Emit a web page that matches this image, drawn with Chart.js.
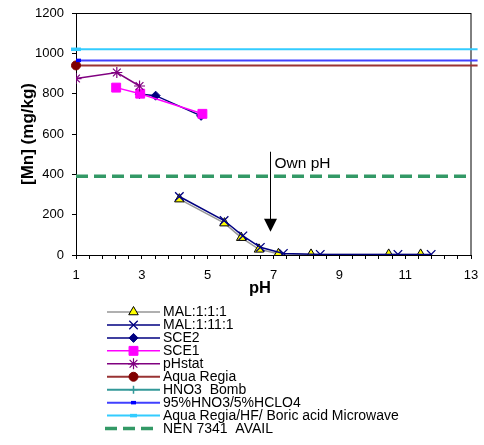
<!DOCTYPE html>
<html lang="en">
<head>
  <meta charset="UTF-8" />
  <title>[Mn] vs pH</title>
  <style>
    html, body { margin: 0; padding: 0; background: #fff; }
    #grafico { display: block; }
  </style>
</head>
<body>
  <canvas id="grafico" width="484" height="445"></canvas>

  <script src="https://cdn.jsdelivr.net/npm/chart.js"></script>
  <script>
    // --- dados ---
    const malA_ph  = [4.14, 5.51, 6.02, 6.56, 7.15, 8.14, 10.5, 11.47];
    const malA_mn  = [277, 158, 86, 28, 6, 3, 3, 3];

    const malB_ph  = [4.14, 5.5, 6.07, 6.6, 7.3, 8.42, 10.78, 11.79];
    const malB_mn  = [290, 171, 95, 38, 8, 3, 3, 3];

    const sce2_ph  = [2.93, 3.42, 4.8];
    const sce2_mn  = [798, 790, 690];

    const sce1_ph  = [2.22, 2.95, 4.84];
    const sce1_mn  = [830, 800, 700];

    const phstat_ph = [1, 2.24, 2.93];
    const phstat_mn = [875, 905, 838];

    // linhas de referência (valor total, desenhado de pH 1 até além de 13)
    const refRange_ph   = [1, 13.2];
    const aquaRegia_mn  = 940;
    const hno3Bomb_mn   = [];      // não aparece na área do gráfico
    const hno3hclo4_mn  = 965;
    const microwave_mn  = 1020;
    const nenRange_ph   = [1, 13];
    const nenAvail_mn   = 390;

    const xTicksLabeled = [1, 3, 5, 7, 9, 11, 13];

    // anotação "Own pH"
    const ownPh = { ph: 6.9, mnTop: 512, mnTip: 115 };

    const FONTE = '"Liberation Sans", Arial, sans-serif';

    function pts(xs, ys) {
      return xs.map((x, i) => ({ x: x, y: ys[i] }));
    }
    function linhaRef(valor, faixa) {
      return faixa.map(x => ({ x: x, y: valor }));
    }

    const datasets = [
      {
        label: 'MAL:1:1:1', data: pts(malA_ph, malA_mn),
        borderColor: '#969696', borderWidth: 1.5,
        pointStyle: 'triangle', pointRadius: 5.5,
        pointBackgroundColor: '#ffff00', pointBorderColor: '#000', pointBorderWidth: 1
      },
      {
        label: 'MAL:1:11:1', data: pts(malB_ph, malB_mn),
        borderColor: '#000080', borderWidth: 1.5,
        pointStyle: 'crossRot', pointRadius: 6,
        pointBorderColor: '#000080', pointBorderWidth: 1.3
      },
      {
        label: 'SCE2', data: pts(sce2_ph, sce2_mn),
        borderColor: '#000080', borderWidth: 1.5,
        pointStyle: 'rectRot', pointRadius: 4.5,
        pointBackgroundColor: '#000080', pointBorderColor: '#000080', pointBorderWidth: 1
      },
      {
        label: 'SCE1', data: pts(sce1_ph, sce1_mn),
        borderColor: '#ff00ff', borderWidth: 1.5,
        pointStyle: 'rect', pointRadius: 6.3,
        pointBackgroundColor: '#ff00ff', pointBorderColor: '#ff00ff', pointBorderWidth: 1
      },
      {
        label: 'pHstat', data: pts(phstat_ph, phstat_mn),
        borderColor: '#800080', borderWidth: 1.5,
        pointStyle: 'star', pointRadius: 5.5,
        pointBorderColor: '#800080', pointBorderWidth: 1.2
      },
      {
        label: 'Aqua Regia', data: linhaRef(aquaRegia_mn, refRange_ph),
        borderColor: '#993333', borderWidth: 2,
        pointStyle: 'circle', pointRadius: [4.5, 0],
        pointBackgroundColor: '#800000', pointBorderColor: '#800000', pointBorderWidth: 1,
        clip: false
      },
      {
        label: 'HNO3  Bomb', data: hno3Bomb_mn,
        borderColor: '#339999', borderWidth: 2,
        pointStyle: 'cross', pointRadius: 4,
        pointBorderColor: '#339999', pointBorderWidth: 1.5,
        clip: false
      },
      {
        label: '95%HNO3/5%HCLO4', data: linhaRef(hno3hclo4_mn, refRange_ph),
        borderColor: '#4040ff', borderWidth: 2,
        pointStyle: 'dash', pointRadius: [5, 0],
        pointBorderColor: '#0000ff', pointBorderWidth: 3.5,
        clip: false
      },
      {
        label: 'Aqua Regia/HF/ Boric acid Microwave', data: linhaRef(microwave_mn, refRange_ph),
        borderColor: '#33ccff', borderWidth: 2,
        pointStyle: 'line', pointRadius: [5, 0],
        pointBorderColor: '#33ccff', pointBorderWidth: 3.5,
        clip: false
      },
      {
        label: 'NEN 7341  AVAIL', data: linhaRef(nenAvail_mn, nenRange_ph),
        borderColor: '#339966', borderWidth: 3.5, borderDash: [12, 6],
        pointRadius: 0
      }
    ];
    // como no Excel: as séries posteriores ficam por cima
    datasets.forEach((d, i) => {
      d.order = datasets.length - i;
      d.showLine = true;
      d.fill = false;
      d.tension = 0;
      d.pointHoverRadius = d.pointRadius;
    });

    const molduraPlugin = {
      id: 'moldura',
      beforeDatasetsDraw(chart) {
        const { ctx, chartArea: a } = chart;
        ctx.save();
        ctx.strokeStyle = '#000';
        ctx.lineWidth = 1;
        ctx.strokeRect(a.left + 0.5, a.top + 0.5, a.right - a.left - 0.5, a.bottom - a.top);
        ctx.restore();
      }
    };

    const anotacaoPlugin = {
      id: 'anotacao',
      afterDatasetsDraw(chart) {
        const { ctx } = chart;
        const xs = chart.scales.x, ys = chart.scales.y;
        const px = Math.round(xs.getPixelForValue(ownPh.ph)) + 0.5;
        const yTop = ys.getPixelForValue(ownPh.mnTop);
        const yTip = ys.getPixelForValue(ownPh.mnTip);
        ctx.save();
        ctx.strokeStyle = '#000';
        ctx.fillStyle = '#000';
        ctx.lineWidth = 1;
        ctx.beginPath();
        ctx.moveTo(px, yTop);
        ctx.lineTo(px, yTip - 12);
        ctx.stroke();
        ctx.beginPath();
        ctx.moveTo(px - 6.5, yTip - 13);
        ctx.lineTo(px + 6.5, yTip - 13);
        ctx.lineTo(px, yTip);
        ctx.closePath();
        ctx.fill();
        ctx.font = '15.5px ' + FONTE;
        ctx.textBaseline = 'middle';
        ctx.textAlign = 'left';
        ctx.fillText('Own pH', px + 4, yTop + 12);

        // título do eixo x
        ctx.font = 'bold 16.5px ' + FONTE;
        ctx.textAlign = 'center';
        ctx.fillText('pH', 260, 288);
        ctx.restore();
      }
    };

    const legendaPlugin = {
      id: 'legenda',
      afterDraw(chart) {
        const { ctx } = chart;
        const y0 = 312, passo = 12.95;
        const x1 = 107, x2 = 160, xm = 133.5, xt = 163;
        ctx.save();
        chart.data.datasets.forEach((d, i) => {
          const y = y0 + i * passo;
          ctx.strokeStyle = d.borderColor;
          ctx.lineWidth = d.borderWidth;
          ctx.setLineDash(d.borderDash || []);
          ctx.beginPath();
          if (d.borderDash) {
            ctx.moveTo(x1 - 2, y);
            ctx.lineTo(x2 - 5, y);
          } else {
            ctx.moveTo(x1, y);
            ctx.lineTo(x2, y);
          }
          ctx.stroke();
          ctx.setLineDash([]);
          const r = Array.isArray(d.pointRadius) ? d.pointRadius[0] : d.pointRadius;
          if (r > 0) {
            ctx.fillStyle = d.pointBackgroundColor || d.pointBorderColor;
            ctx.strokeStyle = d.pointBorderColor;
            ctx.lineWidth = d.pointBorderWidth;
            let st = d.pointStyle;
            let xx = xm;
            if (st === 'dash') { xx = xm - 2.5; }
            Chart.helpers.drawPoint(ctx, {
              pointStyle: st, radius: st === 'dash' ? 5 : (st === 'line' ? 3.5 : r),
              rotation: 0, borderWidth: d.pointBorderWidth
            }, xx, y);
          }
          ctx.fillStyle = '#000';
          ctx.font = '14px ' + FONTE;
          ctx.textBaseline = 'middle';
          ctx.textAlign = 'left';
          ctx.fillText(d.label, xt, y + 0.5);
        });
        ctx.restore();
      }
    };

    new Chart(document.getElementById('grafico'), {
      type: 'scatter',
      data: { datasets },
      options: {
        responsive: false,
        animation: false,
        events: [],
        layout: { padding: { top: 13, right: 13, left: 0, bottom: 0 } },
        plugins: {
          legend: { display: false },
          tooltip: { enabled: false }
        },
        scales: {
          x: {
            type: 'linear',
            min: 1, max: 13,
            afterFit: s => { s.height = 190; s.paddingLeft = 0; s.paddingRight = 0; },
            border: { display: true, color: '#000', width: 1 },
            grid: { display: true, drawOnChartArea: false, drawTicks: true, tickLength: 4, color: '#000' },
            ticks: {
              stepSize: 0.4,
              autoSkip: false,
              maxRotation: 0,
              padding: 9,
              color: '#000',
              font: { family: FONTE, size: 13 },
              callback: v => xTicksLabeled.some(t => Math.abs(t - v) < 1e-6) ? String(Math.round(v)) : ''
            }
          },
          y: {
            type: 'linear',
            min: 0, max: 1200,
            afterFit: s => { s.width = 76; s.paddingTop = 0; s.paddingBottom = 0; },
            border: { display: true, color: '#000', width: 1 },
            grid: { display: true, drawOnChartArea: false, drawTicks: true, tickLength: 4, color: '#000' },
            ticks: {
              stepSize: 200,
              padding: 8,
              color: '#000',
              font: { family: FONTE, size: 13 },
              callback: v => String(v)
            },
            title: {
              display: true,
              text: '[Mn] (mg/kg)',
              color: '#000',
              font: { family: FONTE, size: 17, weight: 'bold' },
              padding: { top: 18, bottom: 0 }
            }
          }
        }
      },
      plugins: [molduraPlugin, anotacaoPlugin, legendaPlugin]
    });
  </script>
</body>
</html>
